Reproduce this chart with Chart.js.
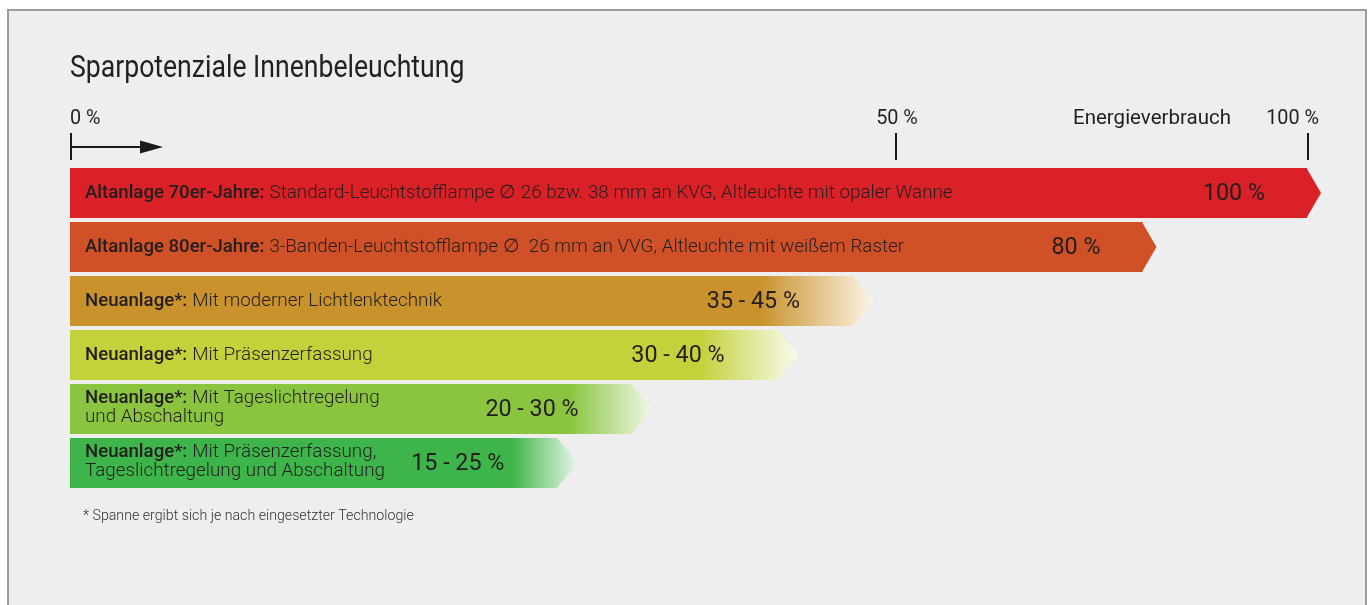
<!DOCTYPE html>
<html><head><meta charset="utf-8">
<script src="https://cdn.jsdelivr.net/npm/chart.js@4"></script>
<style>
html,body{margin:0;padding:0;background:#fff;width:1370px;height:605px;overflow:hidden;font-family:Roboto,sans-serif}
#frame{position:absolute;left:7px;top:9px;width:1360px;height:660px;border:2px solid #9c9c9c;background:#eeeeee;box-sizing:border-box}
#wrap{position:absolute;left:0;top:0;width:1370px;height:605px}
</style></head><body>
<div id="frame"></div>
<div id="wrap"><canvas id="c" width="1370" height="605"></canvas></div>
<script>
// ---- data ----
const chartTitle = 'Sparpotenziale Innenbeleuchtung';
const axisTitle = 'Energieverbrauch';
const footnote = '* Spanne ergibt sich je nach eingesetzter Technologie';
const categories = ['Altanlage 70er-Jahre:', 'Altanlage 80er-Jahre:', 'Neuanlage*:', 'Neuanlage*:', 'Neuanlage*:', 'Neuanlage*:'];
const descriptions = [
  ['Standard-Leuchtstofflampe \u2205 26 bzw. 38 mm an KVG, Altleuchte mit opaler Wanne'],
  ['3-Banden-Leuchtstofflampe \u2205  26 mm an VVG, Altleuchte mit weißem Raster'],
  ['Mit moderner Lichtlenktechnik'],
  ['Mit Präsenzerfassung'],
  ['Mit Tageslichtregelung', 'und Abschaltung'],
  ['Mit Präsenzerfassung,', 'Tageslichtregelung und Abschaltung']
];
const valueLabels = ['100 %', '80 %', '35 - 45 %', '30 - 40 %', '20 - 30 %', '15 - 25 %'];
// bar lengths as read on the drawn axis (0 = start, 100 = end of the 100 % bar)
const barEnds = [100, 86.7, 63.3, 57.2, 45.4, 39.4];
// where the colour starts fading out (range bars only)
const fadeStarts = [null, null, 55.8, 50.9, 40.4, 35.7];
const axisTickValues = [0, 66.7, 100];
const axisTickLabels = ['0 %', '50 %', '100 %'];

// ---- styles ----
const barColors = ['#d92127', '#d05027', '#c9922c', '#c3d13a', '#8bc53f', '#3eb54a'];
const fadeColors = [null, null, '#fcf5e7', '#fafbec', '#f0f8e8', '#eaf6ea'];
const TXT = '#231f20';
const tipLen = i => (fadeStarts[i] == null ? 14 : 21);

function barFill(ch, i) {
  if (fadeStarts[i] == null || !ch.chartArea) return barColors[i];
  const xs = ch.scales.x;
  const g = ch.ctx.createLinearGradient(xs.getPixelForValue(fadeStarts[i]), 0, xs.getPixelForValue(barEnds[i]) + tipLen(i), 0);
  g.addColorStop(0, barColors[i]);
  g.addColorStop(1, fadeColors[i]);
  return g;
}

function narrowText(ctx, t, x, y, sx) {
  ctx.save();
  ctx.translate(x, y);
  ctx.scale(sx, 1);
  ctx.fillText(t, 0, 0);
  ctx.restore();
}

const decor = {
  id: 'decor',
  afterDatasetsDraw(ch) {
    const ctx = ch.ctx, xs = ch.scales.x;
    const meta = ch.getDatasetMeta(0);
    ctx.save();
    meta.data.forEach((el, i) => {
      const h = el.height, y = el.y, x = el.x;
      // arrow tip
      ctx.beginPath();
      ctx.moveTo(x - 0.5, y - h / 2);
      ctx.lineTo(x + tipLen(i), y);
      ctx.lineTo(x - 0.5, y + h / 2);
      ctx.closePath();
      ctx.fillStyle = barFill(ch, i);
      ctx.fill();
      // category text
      const x0 = xs.getPixelForValue(0) + 15;
      const lines = descriptions[i];
      const offs = lines.length === 1 ? [0] : [-10.5, 8.5];
      ctx.textBaseline = 'middle';
      ctx.textAlign = 'left';
      lines.forEach((ln, k) => {
        let xx = x0;
        if (k === 0) {
          ctx.font = '500 18.6px Roboto';
          ctx.fillStyle = TXT;
          ctx.fillText(categories[i], xx, y + offs[k]);
          xx += ctx.measureText(categories[i]).width + 5;
        }
        ctx.font = '300 18.85px Roboto';
        ctx.fillStyle = TXT;
        ctx.fillText(ln, xx, y + offs[k]);
      });
      // value label
      ctx.font = '400 23.3px Roboto';
      ctx.textAlign = 'right';
      ctx.fillStyle = TXT;
      const off = fadeStarts[i] == null ? 42 : 53;
      ctx.fillText(valueLabels[i], x - off, y + 1);
    });

    // axis
    ctx.strokeStyle = '#1a1a1a';
    ctx.fillStyle = '#1a1a1a';
    ctx.lineWidth = 2;
    axisTickValues.forEach((v, k) => {
      const px = Math.round(xs.getPixelForValue(v)) + 1;
      ctx.beginPath();
      ctx.moveTo(px, 133);
      ctx.lineTo(px, 160);
      ctx.stroke();
      ctx.font = '400 19.8px Roboto';
      ctx.fillStyle = TXT;
      ctx.textBaseline = 'middle';
      if (k === 0) { ctx.textAlign = 'left'; ctx.fillText(axisTickLabels[k], px - 1, 119); }
      else if (k === axisTickValues.length - 1) { ctx.textAlign = 'right'; ctx.fillText(axisTickLabels[k], px + 11, 119); }
      else { ctx.textAlign = 'center'; ctx.fillText(axisTickLabels[k], px + 1, 119); }
    });
    ctx.font = '400 20.5px Roboto';
    ctx.textAlign = 'right';
    ctx.fillText(axisTitle, xs.getPixelForValue(100) - 76, 119);
    // direction arrow
    const a0 = xs.getPixelForValue(0);
    ctx.beginPath();
    ctx.moveTo(a0, 147);
    ctx.lineTo(a0 + 80, 147);
    ctx.stroke();
    ctx.beginPath();
    ctx.moveTo(a0 + 70, 140.5);
    ctx.lineTo(a0 + 93, 147);
    ctx.lineTo(a0 + 70, 153.5);
    ctx.closePath();
    ctx.fillStyle = '#1a1a1a';
    ctx.fill();

    // title & footnote
    ctx.fillStyle = '#231f20';
    ctx.textAlign = 'left';
    ctx.textBaseline = 'alphabetic';
    ctx.font = '400 30.5px Roboto';
    narrowText(ctx, chartTitle, a0, 76.5, 0.872);
    ctx.font = '300 14.2px Roboto';
    ctx.fillStyle = '#333';
    ctx.textBaseline = 'middle';
    ctx.fillText(footnote, a0 + 13, 516);
    ctx.restore();
  }
};

new Chart(document.getElementById('c').getContext('2d'), {
  type: 'bar',
  data: {
    labels: categories,
    datasets: [{
      data: barEnds.map(v => [0, v]),
      backgroundColor: c => barFill(c.chart, c.dataIndex),
      borderWidth: 0,
      borderSkipped: false,
      barPercentage: 50 / 54,
      categoryPercentage: 1
    }]
  },
  options: {
    indexAxis: 'y',
    responsive: false,
    animation: false,
    events: [],
    layout: { padding: { left: 70, right: 63, top: 166, bottom: 115 } },
    scales: {
      x: { min: 0, max: 100, display: false },
      y: { display: false }
    },
    plugins: { legend: { display: false }, tooltip: { enabled: false } }
  },
  plugins: [decor]
});
</script>
</body></html>
